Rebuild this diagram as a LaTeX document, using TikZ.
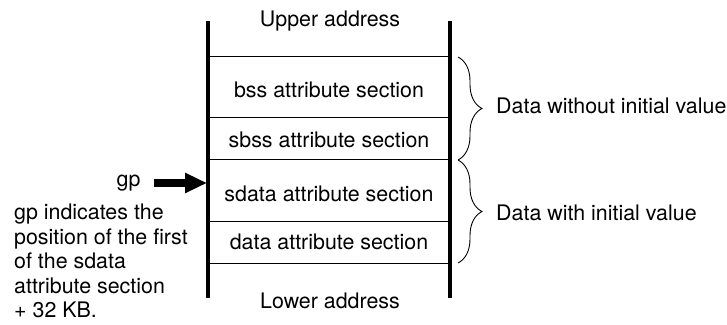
\documentclass[tikz,border=0pt]{standalone}
\usepackage{fontspec}
\setmainfont{TeX Gyre Heros}
\usetikzlibrary{arrows.meta,decorations.pathreplacing}
\definecolor{ink}{HTML}{000000}
\tikzset{wall/.style={line width=3.6pt,ink},
sep/.style={line width=1pt,ink},
lab/.style={font=\fontsize{21.4}{24.5}\selectfont,text=ink,inner sep=0pt},
brc/.style={decorate,decoration={brace,amplitude=24pt},line width=.9pt,ink},
gparrow/.style={-{Triangle[length=22pt,width=19pt]},line width=8pt,ink}}

\begin{document}
\begin{tikzpicture}[x=1pt,y=1pt]
\useasboundingbox (0,0) rectangle (727,324);
% memory map
\draw[wall] (208,26)--(208,303);
\draw[wall] (450,26)--(450,303);
\foreach \y in {267,206,164,103,61} \draw[sep] (208,\y)--(450,\y);
\node[lab,anchor=base] (upper) at (330,297) {Upper address};
\node[lab,anchor=base] (bss) at (329,226) {bss attribute section};
\node[lab,anchor=base] (sbss) at (329,176) {sbss attribute section};
\node[lab,anchor=base] (sdata) at (329,123) {sdata attribute section};
\node[lab,anchor=base] (data) at (329,75) {data attribute section};
\node[lab,anchor=base] (lower) at (330,16) {Lower address};
% braces
\coordinate (btop) at (458,267);
\coordinate (bmid) at (458,164);
\coordinate (bbot) at (458,61);
\draw[brc] (btop)--(bmid);
\draw[brc] (bmid)--(bbot);
\node[lab,anchor=base west] (noinit) at (496,210) {Data without initial value};
\node[lab,anchor=base west] (init) at (496,104) {Data with initial value};
% gp pointer
\node[lab] (gp) at (128.5,141) {gp};
\coordinate (gptip) at (207,141);
\draw[gparrow,shorten <=13pt] (gp)--(gptip);
\node[lab,align=left,anchor=north west] (note) at (14,120) {gp indicates the\\position of the first\\of the sdata\\attribute section\\+ 32 KB.};
\end{tikzpicture}
\end{document}
